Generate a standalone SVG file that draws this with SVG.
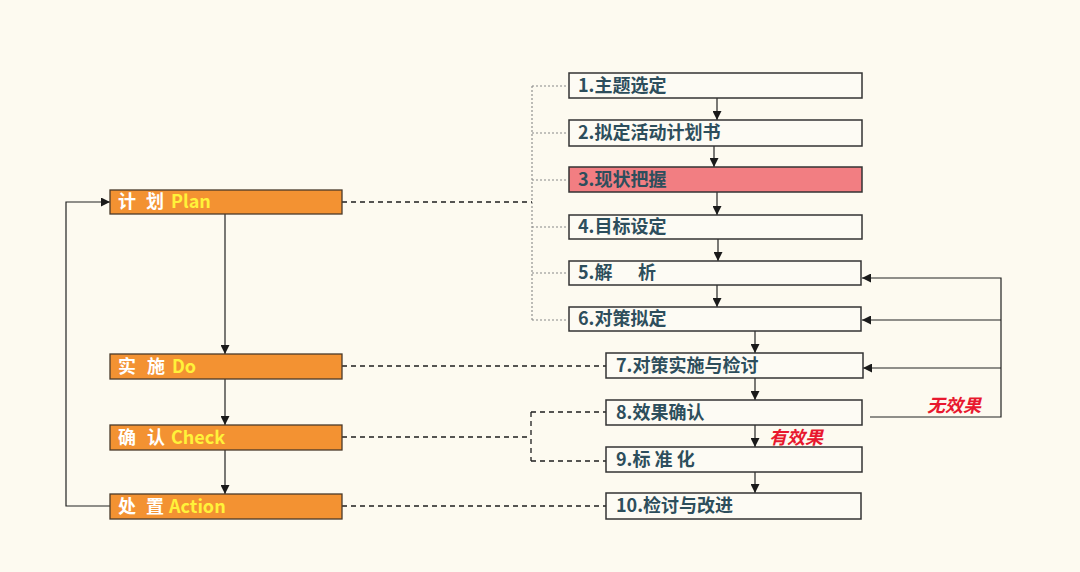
<svg xmlns="http://www.w3.org/2000/svg" width="1080" height="572" viewBox="0 0 1080 572">
<defs>
<marker id="ah" viewBox="0 0 10 10" refX="10" refY="5" markerWidth="9" markerHeight="9" markerUnits="userSpaceOnUse" orient="auto"><path d="M0,0 L10,5 L0,10 z" fill="#1a1a1a"/></marker>
<style>
.bg{fill:#FDFAF0}
.pd{fill:#F39232;stroke:#4a3a2a;stroke-width:1.3}
.st{fill:#FDFBF4;stroke:#333;stroke-width:1.5}
.pk{fill:#F27E82;stroke:#333;stroke-width:1.5}
.t{font-family:"Noto Sans CJK SC","Noto Sans",sans-serif;font-weight:bold;font-size:18px;fill:#2D4E5C}
.w{font-family:"Noto Sans CJK SC","Noto Sans",sans-serif;font-weight:bold;font-size:18px;fill:#ffffff}
.y{fill:#FFF23A}
.r{font-family:"Noto Sans CJK SC","Noto Sans",sans-serif;font-weight:bold;font-style:italic;font-size:18px;fill:#E8182E}
.ln{fill:none;stroke:#222;stroke-width:1.2}
.dl{fill:none;stroke:#1e1e1e;stroke-width:1.3;stroke-dasharray:5,4}
.gl{fill:none;stroke:#888;stroke-width:1.1;stroke-dasharray:2,2}
</style>
</defs>
<rect class="bg" x="0" y="0" width="1080" height="572"/>

<g id="connectors">
<path class="gl" d="M532,86 V320 M532,86 H568 M532,133 H568 M532,180 H568 M532,227 H568 M532,273 H568 M532,320 H568"/>
<path class="dl" d="M342,202 H532"/>
<path class="dl" d="M342,366 H620"/>
<path class="dl" d="M342,437 H531 M531,412 V461 M531,412 H606 M531,461 H606"/>
<path class="dl" d="M342,506 H606"/>
<path class="ln" d="M110,506 H66 V202 H110" marker-end="url(#ah)"/>
<path class="ln" d="M225,214 V354" marker-end="url(#ah)"/>
<path class="ln" d="M225,379 V425" marker-end="url(#ah)"/>
<path class="ln" d="M225,450 V494" marker-end="url(#ah)"/>
<path class="ln" d="M717,98 V120" marker-end="url(#ah)"/>
<path class="ln" d="M714,146 V167" marker-end="url(#ah)"/>
<path class="ln" d="M717,192 V215" marker-end="url(#ah)"/>
<path class="ln" d="M718,239 V261" marker-end="url(#ah)"/>
<path class="ln" d="M717,285 V307" marker-end="url(#ah)"/>
<path class="ln" d="M755,331 V353" marker-end="url(#ah)"/>
<path class="ln" d="M755,378 V400" marker-end="url(#ah)"/>
<path class="ln" d="M755,425 V447" marker-end="url(#ah)"/>
<path class="ln" d="M755,472 V493" marker-end="url(#ah)"/>
<path class="ln" d="M870,417 H1001 V278 H862" marker-end="url(#ah)"/>
<path class="ln" d="M1001,320 H862" marker-end="url(#ah)"/>
<path class="ln" d="M1001,368 H863" marker-end="url(#ah)"/>
</g>

<g id="plan"><rect class="pd" x="110" y="190" width="232" height="24"/><text class="w" y="208"><tspan x="118">计</tspan><tspan x="146">划</tspan><tspan class="y" x="171">Plan</tspan></text></g>
<g id="do"><rect class="pd" x="110" y="354" width="232" height="25"/><text class="w" y="373"><tspan x="118">实</tspan><tspan x="147">施</tspan><tspan class="y" x="172">Do</tspan></text></g>
<g id="check"><rect class="pd" x="110" y="425" width="232" height="25"/><text class="w" y="444"><tspan x="118">确</tspan><tspan x="147">认</tspan><tspan class="y" x="171">Check</tspan></text></g>
<g id="action"><rect class="pd" x="110" y="494" width="232" height="25"/><text class="w" y="513"><tspan x="118">处</tspan><tspan x="146">置</tspan><tspan class="y" x="169">Action</tspan></text></g>

<g id="s1"><rect class="st" x="569" y="73" width="293" height="25"/><text class="t" x="578" y="92">1.主题选定</text></g>
<g id="s2"><rect class="st" x="569" y="120" width="293" height="26"/><text class="t" x="578" y="139">2.拟定活动计划书</text></g>
<g id="s3"><rect class="pk" x="569" y="167" width="293" height="25"/><text class="t" x="578" y="186">3.现状把握</text></g>
<g id="s4"><rect class="st" x="569" y="215" width="293" height="24"/><text class="t" x="578" y="233">4.目标设定</text></g>
<g id="s5"><rect class="st" x="569" y="261" width="292" height="24"/><text class="t" y="279"><tspan x="578">5.解</tspan><tspan x="638">析</tspan></text></g>
<g id="s6"><rect class="st" x="569" y="307" width="292" height="24"/><text class="t" x="578" y="325">6.对策拟定</text></g>
<g id="s7"><rect class="st" x="606" y="353" width="257" height="25"/><text class="t" x="616" y="372">7.对策实施与检讨</text></g>
<g id="s8"><rect class="st" x="606" y="400" width="256" height="25"/><text class="t" x="616" y="419">8.效果确认</text></g>
<g id="s9"><rect class="st" x="606" y="447" width="256" height="25"/><text class="t" x="616" y="466">9.标 准 化</text></g>
<g id="s10"><rect class="st" x="606" y="493" width="255" height="26"/><text class="t" x="616" y="512">10.检讨与改进</text></g>

<text class="r" x="927" y="412">无效果</text>
<text class="r" x="769" y="444">有效果</text>
</svg>
